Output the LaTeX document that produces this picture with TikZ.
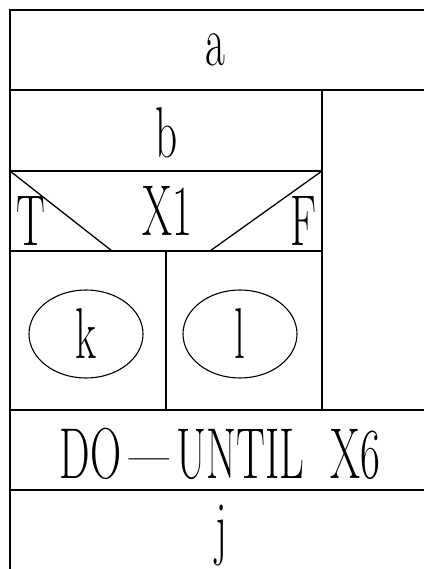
\documentclass[tikz,border=0pt]{standalone}
\usepackage{fontspec}
\setmainfont[FakeStretch=0.6]{Latin Modern Roman}
\usetikzlibrary{shapes.geometric}

\begin{document}
\begin{tikzpicture}[x=1pt,y=-1pt,line width=1.3pt,
  lbl/.style={inner sep=0pt,font=\fontsize{72}{80}\selectfont},
  oval/.style={draw,ellipse,line width=1.1pt,minimum width=114pt,minimum height=88pt,inner sep=0pt,font=\fontsize{72}{80}\selectfont}]

\useasboundingbox (0,0) rectangle (424,569);

% outer frame
\draw (424,10) -- (10,10) -- (10,569);
\draw (10,90) -- (424,90);
\draw (10,490) -- (424,490);
\draw (10,410) -- (424,410);

% inner box (b, X1, k/l)
\draw (322,90) -- (322,410);
\draw (10,171) -- (322,171);
\draw (10,251) -- (322,251);
\draw (166,251) -- (166,410);

% decision diagonals
\draw (10,171) -- (112,251);
\draw (322,171) -- (210,251);

% texts
\node[lbl] (a) at (215,50) {a};
\node[lbl] (b) at (167,133) {b};
\node[lbl] (x1) at (167,211) {X1};
\node[lbl] (T) at (31,221) {T};
\node[lbl] (F) at (303,221) {F};
\node[oval] (k) at (86,334) {k};
\node[oval] (l) at (240,334) {l};
\node[lbl] (until) at (220,454) {DO\kern8pt—\kern8pt UNTIL\kern26pt X6};
\node[lbl] (j) at (221,536) {j};

\end{tikzpicture}
\end{document}
